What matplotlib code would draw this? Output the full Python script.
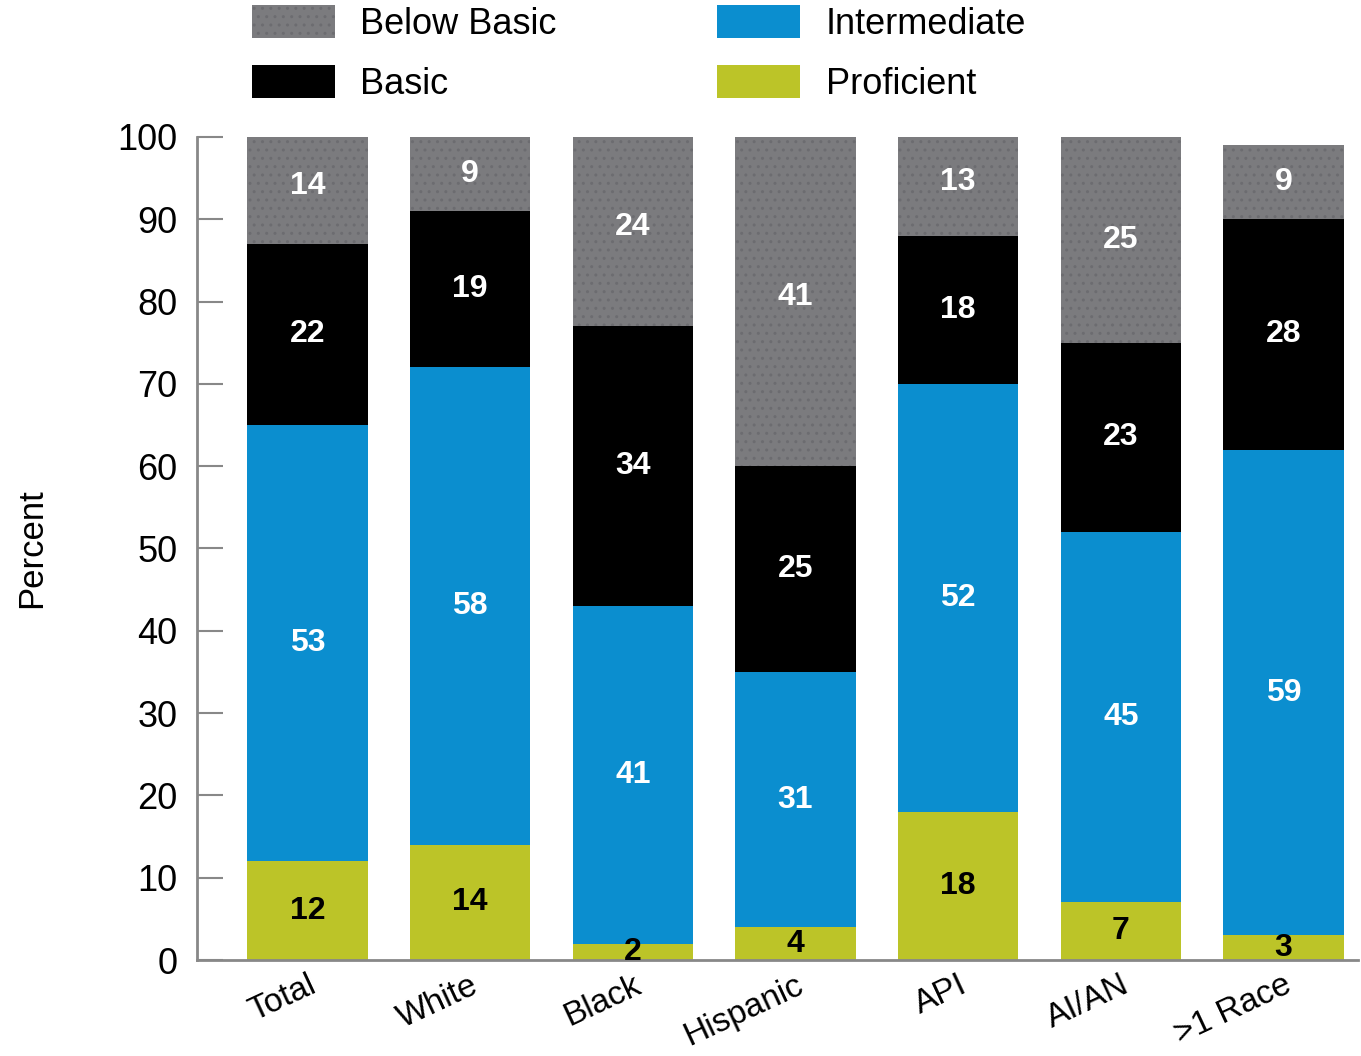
import numpy as np
import matplotlib.pyplot as plt

plt.rcParams['font.family'] = ['Liberation Sans', 'DejaVu Sans']

groups = ['Total', 'White', 'Black', 'Hispanic', 'API', 'AI/AN', '>1 Race']
proficient = [12, 14, 2, 4, 18, 7, 3]
intermediate = [53, 58, 41, 31, 52, 45, 59]
basic = [22, 19, 34, 25, 18, 23, 28]
below_basic = [14, 9, 24, 41, 13, 25, 9]

levels = ['Proficient', 'Intermediate', 'Basic', 'Below Basic']
series = [proficient, intermediate, basic, below_basic]
colors = ['#bcc428', '#0b8ecf', '#000000', '#7b7b7e']
text_colors = ['black', 'white', 'white', 'white']

fig = plt.figure(figsize=(13.61, 10.56), dpi=100)
ax = fig.add_axes([0.1447, 0.0909, 0.8533, 0.7794])

x = np.arange(len(groups))
bottom = np.zeros(len(groups))
bars = {}
for name, vals, c, tc in zip(levels, series, colors, text_colors):
    vals = np.array(vals, dtype=float)
    hatch = '..' if name == 'Below Basic' else None
    b = ax.bar(x, vals, 0.74, bottom=bottom, color=c, linewidth=0,
               hatch=hatch, edgecolor='#6c6c70' if hatch else c, label=name)
    bars[name] = b
    for xi, v, b0 in zip(x, vals, bottom):
        ax.text(xi, b0 + v / 2, str(int(v)), ha='center', va='center',
                color=tc, fontsize=23, fontweight='bold')
    bottom += vals

ax.set_ylim(0, 100)
ax.set_xlim(-0.68, 6.46)
ax.set_yticks(range(0, 101, 10))
ax.tick_params(axis='y', direction='in', length=19, width=1.5, color='#888888',
               labelsize=26, pad=14)
ax.tick_params(axis='x', length=0, labelsize=24, pad=7)
ax.set_xticks(x)
ax.set_xticklabels(groups, rotation=25, ha='right', rotation_mode='anchor')
for s in ['top', 'right']:
    ax.spines[s].set_visible(False)
for s in ['left', 'bottom']:
    ax.spines[s].set_color('#888888')
    ax.spines[s].set_linewidth(2)

ax.set_ylabel('Percent', fontsize=25, family=['Liberation Sans Narrow', 'Liberation Sans'])
ax.yaxis.set_label_coords(-0.128, 0.5)

leg_kw = dict(frameon=False, fontsize=26, handlelength=2.3, handleheight=1.0,
              handletextpad=0.7, labelspacing=0.65, borderpad=0, borderaxespad=0)
fig.legend([bars['Below Basic'], bars['Basic']], ['Below Basic', 'Basic'],
           loc='upper left', bbox_to_anchor=(0.185, 0.995), **leg_kw)
fig.legend([bars['Intermediate'], bars['Proficient']], ['Intermediate', 'Proficient'],
           loc='upper left', bbox_to_anchor=(0.527, 0.995), **leg_kw)

fig.savefig('out.png', dpi=100, facecolor='white')
